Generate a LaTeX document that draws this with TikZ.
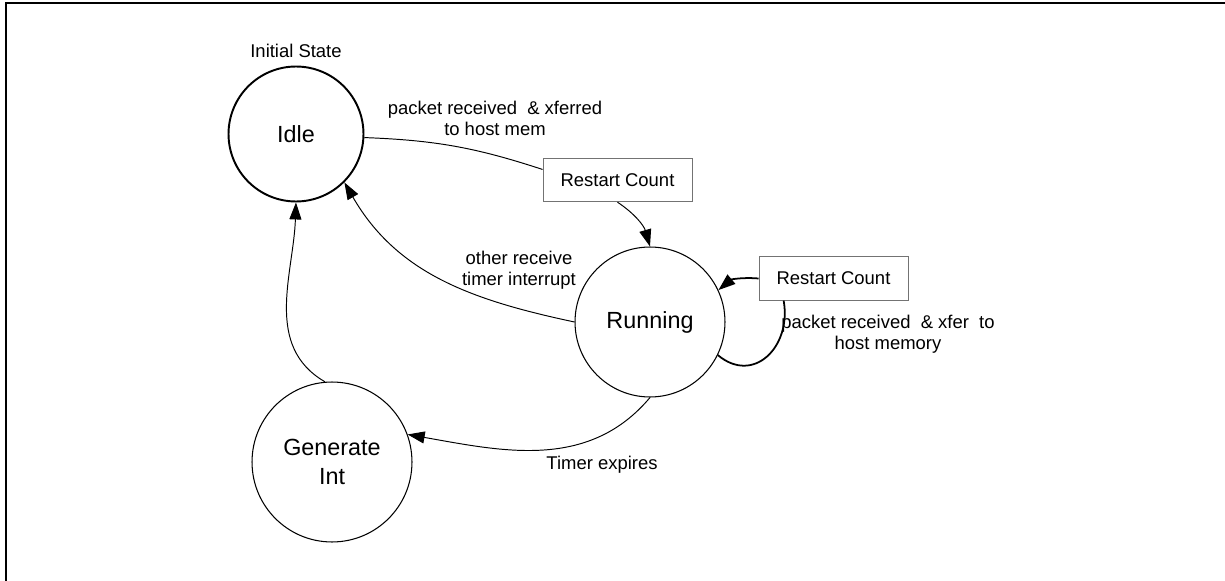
\documentclass[tikz,border=0pt]{standalone}
\usepackage{fontspec}
\setmainfont{Liberation Sans}
\usetikzlibrary{arrows.meta, positioning}
\newcommand{\lblfont}{\fontsize{10.5}{12}\selectfont}
\newcommand{\statefont}{\fontsize{13.3}{16.5}\selectfont}
\tikzset{
  % stato della macchina
  stnode/.style={circle, draw=black, line width=0.6pt, inner sep=0pt,
    align=center, font=\statefont},
  % azione sulla transizione
  actbox/.style={draw=black!55, line width=0.5pt, minimum width=2.98cm,
    minimum height=0.87cm, fill=white, font=\lblfont},
  % etichette
  lbl/.style={font=\lblfont, align=center},
  % transizioni
  plain/.style={line width=0.55pt},
  trans/.style={line width=0.55pt, -{Triangle[length=0.34cm, width=0.24cm]}},
}

\begin{document}
\begin{tikzpicture}[x=0.02cm, y=0.02cm]
  \useasboundingbox (0,0) rectangle (1225,-581);
  \draw[line width=1.5pt] (1225,-3) -- (6,-3) -- (6,-581);
  % stati
  \node[stnode, minimum size=2.7cm, line width=1.1pt] (idle) at (296,-134) {Idle};
  \node[lbl] (init) at (296,-51) {Initial State};
  \node[stnode, minimum size=3.0cm] (run) at (650,-322) {Running};
  \node[stnode, minimum size=3.2cm] (gen) at (332,-462) {Generate\\Int};
  \node[actbox] (rc1) at (617.5,-180) {Restart Count};
  \node[actbox] (rc2) at (833.5,-278.5) {Restart Count};
  % transizioni
  \draw[plain] (idle.-3) to[bend left=8] (rc1.172);
  \draw[trans] (rc1.south) to[bend left=20] (run.north);
  \draw[trans] (run.west) to[out=168, in=-60] (idle.-45);
  \draw[trans] (gen.95) to[out=150, in=-92] (idle.-90);
  \draw[trans] (run.south) to[out=-130, in=-10] (gen.20);
  \draw[line width=1pt] (run.-26) to[out=-40, in=-80, looseness=1.4] (rc2.204);
  \draw[trans, line width=1pt] (rc2.west) to[out=175, in=40] (run.25);
  % etichette
  \node[lbl] (lrecv) at (495,-118) {packet received~ \& xferred\\to host mem};
  \node[lbl] (lother) at (519,-270) {other receive\\timer interrupt};
  \node[lbl] (ltimer) at (602,-465) {Timer expires};
  \node[lbl] (lxfer) at (888,-334.5) {packet received~ \& xfer~ to\\host memory};
\end{tikzpicture}
\end{document}
